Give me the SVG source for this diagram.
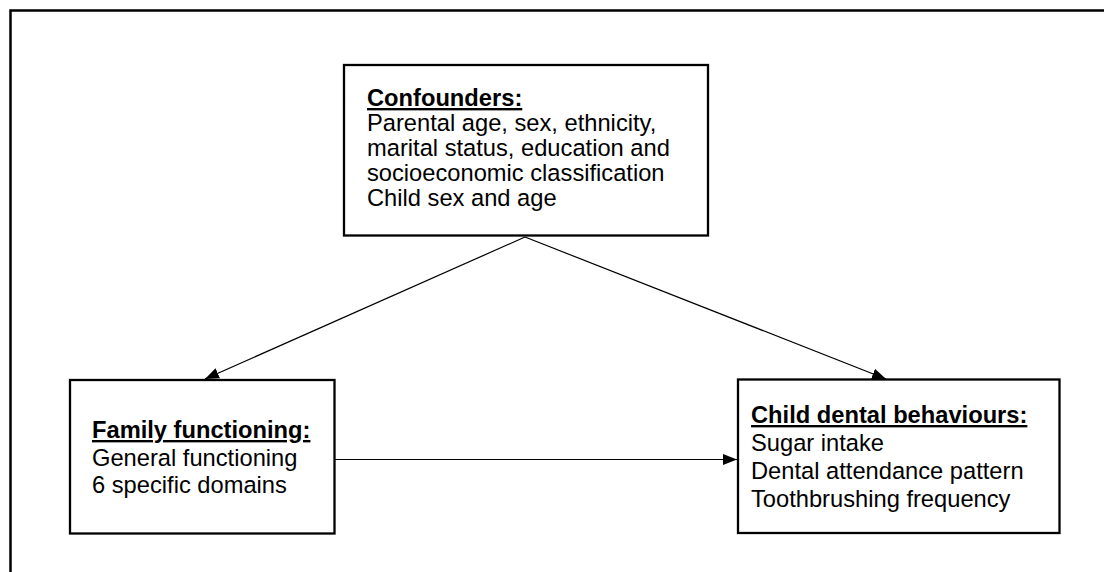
<svg xmlns="http://www.w3.org/2000/svg" width="1104" height="572" viewBox="0 0 1104 572">
  <style>
    .frame { fill: none; stroke: #000; stroke-width: 2.5; }
    .box { fill: #fff; stroke: #000; stroke-width: 2.3; }
    .link { fill: none; stroke: #000; stroke-width: 1.2; }
    text { font-family: "Liberation Sans", Arial, sans-serif; font-size: 23.7px; fill: #000; }
    .head { font-weight: bold; text-decoration: underline; }
  </style>
  <defs>
    <marker id="arrow" markerUnits="userSpaceOnUse" markerWidth="16" markerHeight="12" refX="14" refY="5.5" orient="auto">
      <path d="M0,0 L14,5.5 L0,11 z" fill="#000"/>
    </marker>
  </defs>

  <rect width="1104" height="572" fill="#fff"/>
  <!-- outer frame, open on the right and bottom -->
  <rect class="frame" x="10.5" y="10.5" width="1110" height="580"/>

  <g id="connectors">
    <line class="link" x1="525" y1="237" x2="205" y2="379" marker-end="url(#arrow)"/>
    <line class="link" x1="525" y1="237" x2="886" y2="379" marker-end="url(#arrow)"/>
    <line class="link" x1="335" y1="459.5" x2="737" y2="459.5" marker-end="url(#arrow)"/>
  </g>

  <g id="confounders">
    <rect class="box" x="344" y="65" width="364" height="170.5"/>
    <text x="367" y="106" class="head">Confounders:</text>
    <text x="367" y="131">Parental age, sex, ethnicity,</text>
    <text x="367" y="156">marital status, education and</text>
    <text x="367" y="181">socioeconomic classification</text>
    <text x="367" y="206">Child sex and age</text>
  </g>

  <g id="family-functioning">
    <rect class="box" x="70" y="380" width="264.5" height="153.5"/>
    <text x="92" y="438" class="head">Family functioning:</text>
    <text x="92" y="466">General functioning</text>
    <text x="92" y="493">6 specific domains</text>
  </g>

  <g id="dental-behaviours">
    <rect class="box" x="738" y="379.5" width="321.5" height="153.5"/>
    <text x="751" y="423" class="head">Child dental behaviours:</text>
    <text x="751" y="451">Sugar intake</text>
    <text x="751" y="479">Dental attendance pattern</text>
    <text x="751" y="507">Toothbrushing frequency</text>
  </g>
</svg>
